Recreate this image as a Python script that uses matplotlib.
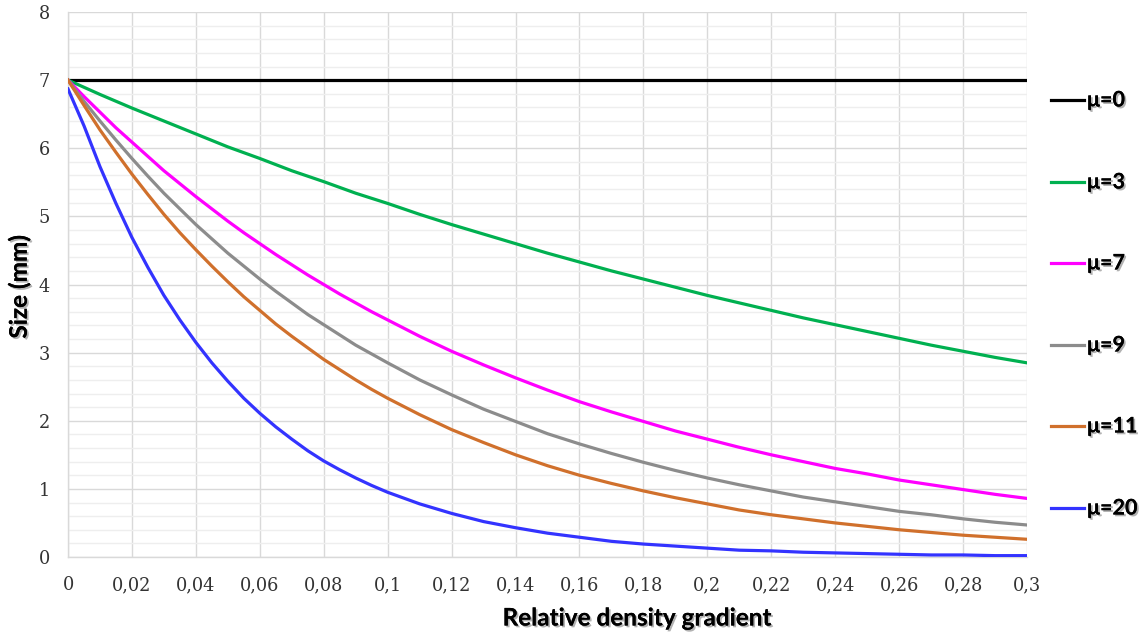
import matplotlib
matplotlib.use("Agg")
import matplotlib.pyplot as plt
import matplotlib.patheffects as pe
from matplotlib.lines import Line2D
from matplotlib.ticker import MultipleLocator

plt.rcParams["font.family"] = ["DejaVu Serif"]

# Relative density gradient (x): every 0.01 for the gentle curves,
# every 0.005 up to 0.1 for the steeper ones
gradient = [round(0.01 * i, 3) for i in range(31)]
gradient_fine = [round(0.005 * i, 3) for i in range(21)] + [round(0.01 * i, 3) for i in range(11, 31)]

size_mu0 = [7.00] * 31
size_mu3 = [7.00, 6.79, 6.59, 6.40, 6.21, 6.02, 5.85, 5.67, 5.51, 5.34, 5.19,
            5.03, 4.88, 4.74, 4.60, 4.46, 4.33, 4.20, 4.08, 3.96, 3.84,
            3.73, 3.62, 3.51, 3.41, 3.31, 3.21, 3.11, 3.02, 2.93, 2.85]
size_mu7 = [7.00, 6.76, 6.53, 6.30, 6.09, 5.88, 5.67, 5.48, 5.29, 5.11, 4.93,
            4.76, 4.60, 4.44, 4.29, 4.14, 4.00, 3.86, 3.73, 3.60, 3.48,
            3.24, 3.02, 2.82, 2.63, 2.45, 2.28, 2.13, 1.99, 1.85, 1.73,
            1.61, 1.50, 1.40, 1.30, 1.22, 1.13, 1.06, 0.99, 0.92, 0.86]
size_mu9 = [7.00, 6.69, 6.40, 6.12, 5.85, 5.59, 5.34, 5.11, 4.88, 4.67, 4.46,
            4.27, 4.08, 3.90, 3.73, 3.56, 3.41, 3.26, 3.11, 2.98, 2.85,
            2.60, 2.38, 2.17, 1.99, 1.81, 1.66, 1.52, 1.39, 1.27, 1.16,
            1.06, 0.97, 0.88, 0.81, 0.74, 0.67, 0.62, 0.56, 0.51, 0.47]
size_mu11 = [7.00, 6.63, 6.27, 5.94, 5.62, 5.32, 5.03, 4.76, 4.51, 4.27, 4.04,
             3.82, 3.62, 3.42, 3.24, 3.07, 2.90, 2.75, 2.60, 2.46, 2.33,
             2.09, 1.87, 1.68, 1.50, 1.34, 1.20, 1.08, 0.97, 0.87, 0.78,
             0.69, 0.62, 0.56, 0.50, 0.45, 0.40, 0.36, 0.32, 0.29, 0.26]
size_mu20 = [6.87, 6.33, 5.73, 5.19, 4.69, 4.25, 3.84, 3.48, 3.15, 2.85, 2.58,
             2.33, 2.11, 1.91, 1.73, 1.56, 1.41, 1.28, 1.16, 1.05, 0.95,
             0.78, 0.64, 0.52, 0.43, 0.35, 0.29, 0.23, 0.19, 0.16, 0.13,
             0.10, 0.09, 0.07, 0.06, 0.05, 0.04, 0.03, 0.03, 0.02, 0.02]

x_ticks = [0, 0.02, 0.04, 0.06, 0.08, 0.1, 0.12, 0.14, 0.16, 0.18, 0.2,
           0.22, 0.24, 0.26, 0.28, 0.3]
x_tick_labels = ["0", "0,02", "0,04", "0,06", "0,08", "0,1", "0,12", "0,14", "0,16",
                 "0,18", "0,2", "0,22", "0,24", "0,26", "0,28", "0,3"]
y_ticks = [0, 1, 2, 3, 4, 5, 6, 7, 8]
y_tick_labels = ["0", "1", "2", "3", "4", "5", "6", "7", "8"]

labels = ["μ=0", "μ=3", "μ=7", "μ=9", "μ=11", "μ=20"]
x_values = [gradient, gradient, gradient_fine, gradient_fine, gradient_fine, gradient_fine]
series = [size_mu0, size_mu3, size_mu7, size_mu9, size_mu11, size_mu20]
colors = ["#000000", "#00b050", "#ff00ff", "#8c8c8c", "#d0702c", "#3333ff"]

W, H = 1148, 632
fig = plt.figure(figsize=(W / 100, H / 100), dpi=100)
ax = fig.add_axes([68 / W, 1 - 557 / H, (1027 - 68) / W, (557 - 12) / H])

for xs, ys, c, lab in zip(x_values, series, colors, labels):
    ax.plot(xs, ys, color=c, lw=2.3, label=lab, solid_joinstyle="round", zorder=3)

ax.set_xlim(0, 0.3)
ax.set_ylim(0, 8)
tick_font = dict(fontfamily="DejaVu Serif", fontsize=12.8, color="#333333")
ax.set_xticks(x_ticks, x_tick_labels, **tick_font)
ax.set_yticks(y_ticks, y_tick_labels, **tick_font)
ax.yaxis.set_minor_locator(MultipleLocator(0.2))

ax.grid(True, which="major", color="#d9d9d9", lw=1.0, zorder=0)
ax.grid(True, which="minor", axis="y", color="#eeeeee", lw=1.0, zorder=0)
ax.set_axisbelow(True)
for side in ["top", "right"]:
    ax.spines[side].set_visible(False)
for side in ["left", "bottom"]:
    ax.spines[side].set_color("#d9d9d9")
    ax.spines[side].set_linewidth(1.0)

ax.tick_params(axis="both", which="both", length=0)
ax.tick_params(axis="y", pad=13)
ax.tick_params(axis="x", pad=14)

shadow = [pe.withSimplePatchShadow(offset=(1.3, -1.3), shadow_rgbFace="#555555", alpha=0.45),
          pe.Normal()]

fig.text(637 / W, 1 - 618 / H, "Relative density gradient", fontfamily="Lato",
         fontweight="bold", fontsize=17.5, ha="center", va="center", path_effects=shadow)
fig.text(19 / W, 1 - 287 / H, "Size (mm)", fontfamily="Lato", fontweight="bold",
         fontsize=17.5, rotation=90, ha="center", va="center", path_effects=shadow)

# Legend drawn as a column of entries on the right
legend_y = [100, 182, 263, 345, 426, 508]
for yy, c, lab in zip(legend_y, colors, labels):
    yf = 1 - yy / H
    fig.add_artist(Line2D([1051 / W, 1084 / W], [yf, yf], color=c, lw=2.3,
                          transform=fig.transFigure))
    fig.text(1087 / W, yf, lab, fontfamily="Lato", fontweight="bold",
             fontsize=15.5, va="center", ha="left", path_effects=shadow)

fig.savefig("out.png", dpi=100)
